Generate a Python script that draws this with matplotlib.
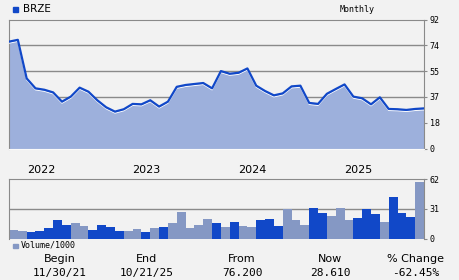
import matplotlib
matplotlib.use("Agg")
import matplotlib.pyplot as plt
import matplotlib.transforms as mtransforms
import numpy as np

# monthly closes, Nov 2021 .. Oct 2025
price = [76.2, 77.5, 50.0, 42.9, 41.9, 40.0, 33.4, 37.0, 43.4, 40.5, 34.4, 29.4,
         26.3, 28.0, 31.8, 31.5, 34.4, 29.9, 33.4, 44.0, 45.3, 46.0, 46.7, 42.9,
         55.2, 53.3, 54.0, 57.1, 44.8, 41.0, 37.9, 39.3, 44.3, 44.8, 32.5, 31.8,
         39.0, 42.4, 45.7, 37.0, 35.8, 31.5, 36.5, 28.2, 28.0, 27.5, 28.2, 28.61]

# monthly volume / 1000
volume = [9.1, 8.0, 7.0, 8.0, 11.1, 19.5, 14.3, 16.4, 13.2, 9.1, 14.3, 12.2,
          8.0, 8.0, 10.1, 7.0, 11.1, 12.2, 16.4, 27.9, 11.1, 14.3, 20.6, 16.4,
          12.2, 17.4, 13.2, 12.2, 19.5, 20.6, 13.2, 31.3, 19.5, 14.3, 32.0, 26.8,
          23.7, 32.0, 19.5, 21.6, 31.3, 25.8, 17.4, 43.5, 26.8, 22.6, 59.2]
vol_dark = [0, 0, 1, 1, 1, 1, 1, 0, 0, 1, 1, 1,
            1, 0, 0, 1, 0, 1, 0, 0, 0, 0, 0, 1,
            0, 1, 0, 0, 1, 1, 1, 0, 0, 0, 1, 1,
            0, 0, 0, 1, 1, 1, 0, 1, 1, 1, 0]

years = ['2022', '2023', '2024', '2025']
year_start = [2, 14, 26, 38]

price_ticks = [0, 18.4, 36.8, 55.2, 73.6, 92]
price_labels = ['0', '18', '37', '55', '74', '92']
vol_ticks = [0, 31, 62]

footer_heads = ['Begin', 'End', 'From', 'Now', '% Change']
footer_vals = ['11/30/21', '10/21/25', '76.200', '28.610', '-62.45%']
footer_x = [60, 147, 242, 330, 416]

bg = '#f2f2f2'
dark = '#1148c8'
light = '#8598c4'
fill = '#9db0dc'
grid = '#8a8a8a'

W, H = 460, 280
fig = plt.figure(figsize=(W / 100, H / 100), dpi=100, facecolor=bg)

def fx(px):
    return px / W

def fy(py):
    return 1 - py / H

ax = fig.add_axes([fx(9), fy(148.5), fx(424 - 9), (148.5 - 19.5) / H], facecolor=bg)
axv = fig.add_axes([fx(9), fy(238.7), fx(424 - 9), (238.7 - 179.3) / H], facecolor=bg)

n = len(price)
xs = np.arange(n)
ax.fill_between(xs, price, 0, color=fill, lw=0, zorder=2)
off = mtransforms.offset_copy(ax.transData, fig=fig, x=0, y=-1.5, units='dots')
ax.plot(xs, price, color='white', lw=0.8, transform=off, zorder=3)
ax.plot(xs, price, color=dark, lw=1.6, zorder=4)
ax.set_xlim(0, n - 1)
ax.set_ylim(0, 92)
for t in price_ticks[1:-1]:
    ax.axhline(t, color=grid, lw=1, zorder=1)

ax.yaxis.tick_right()
ax.set_yticks(price_ticks)
ax.set_yticklabels(price_labels, family='DejaVu Sans Mono', fontsize=6)
ax.tick_params(axis='y', length=2, width=0.8, color=grid, pad=2)
ax.set_xticks([])
for s in ['left', 'top', 'right']:
    ax.spines[s].set_color(grid)
ax.spines['bottom'].set_color('#fafafa')

nv = len(volume)
bx = np.arange(nv) + 0.5
cols = [dark if d else light for d in vol_dark]
axv.bar(bx, volume, width=1.0, color=cols, lw=0, zorder=2)
axv.set_xlim(0, nv)
axv.set_ylim(0, 62)
axv.axhline(31, color=grid, lw=1, zorder=1)
axv.yaxis.tick_right()
axv.set_yticks(vol_ticks)
axv.set_yticklabels([str(v) for v in vol_ticks], family='DejaVu Sans Mono', fontsize=6)
axv.tick_params(axis='y', length=2, width=0.8, color=grid, pad=2)
axv.set_xticks([])
for s in ['left', 'top', 'right']:
    axv.spines[s].set_color(grid)
axv.spines['bottom'].set_visible(False)

# year labels between panels
for lab, m in zip(years, year_start):
    fig.text(fx(9 + m * 415 / 47), fy(170), lab, fontsize=8, ha='left', va='center',
             family='DejaVu Sans')

# legends
fig.patches.append(plt.Rectangle((fx(13), fy(12)), fx(4.5), 4.5 / H, color=dark,
                                 transform=fig.transFigure, figure=fig))
fig.text(fx(23), fy(9.5), 'BRZE', fontsize=7.5, ha='left', va='center', family='DejaVu Sans')
fig.text(fx(357), fy(9.5), 'Monthly', fontsize=6, ha='center', va='center',
         family='DejaVu Sans Mono')
fig.patches.append(plt.Rectangle((fx(13), fy(248)), fx(4.5), 4.5 / H, color=light,
                                 transform=fig.transFigure, figure=fig))
fig.text(fx(21), fy(245.5), 'Volume/1000', fontsize=6, ha='left', va='center',
         family='DejaVu Sans Mono')

for h, v, x in zip(footer_heads, footer_vals, footer_x):
    fig.text(fx(x), fy(259), h, fontsize=8, ha='center', va='center', family='DejaVu Sans')
    fig.text(fx(x), fy(273), v, fontsize=8, ha='center', va='center', family='DejaVu Sans Mono')

fig.savefig('out.png', dpi=100, facecolor=bg)
